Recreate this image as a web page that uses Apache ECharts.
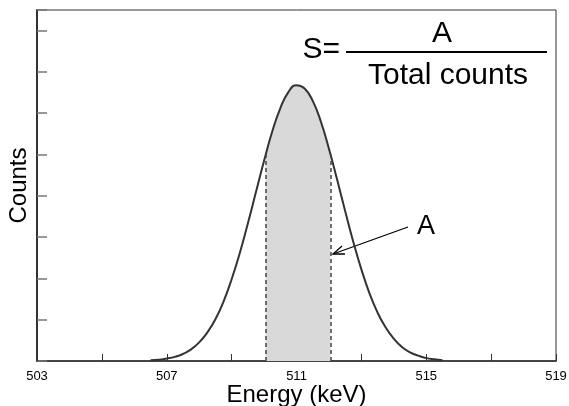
<!DOCTYPE html>
<html>
<head>
<meta charset="utf-8">
<script src="https://cdn.jsdelivr.net/npm/echarts@6/dist/echarts.min.js"></script>
<style>
  html, body { margin: 0; padding: 0; background: #fff; }
  #chart { width: 569px; height: 406px; }
</style>
</head>
<body>
<div id="chart"></div>
<script>
// energy (keV) and counts
const energy = [506.5, 506.75, 507, 507.25, 507.5, 507.75, 508, 508.25, 508.5, 508.75,
  509, 509.25, 509.5, 509.75, 510, 510.25, 510.5, 510.75, 511, 511.25, 511.5, 511.75,
  512, 512.25, 512.5, 512.75, 513, 513.25, 513.5, 513.75, 514, 514.25, 514.5, 514.75,
  515, 515.25, 515.5];
const counts = [0.02, 0.03, 0.06, 0.10, 0.17, 0.28, 0.45, 0.69, 1.01, 1.44,
  1.98, 2.61, 3.33, 4.09, 4.85, 5.55, 6.12, 6.51, 6.68, 6.60, 6.30, 5.80,
  5.14, 4.40, 3.63, 2.89, 2.22, 1.64, 1.17, 0.81, 0.54, 0.34, 0.21, 0.13,
  0.07, 0.04, 0.02];

// window A
const shadeEnergy = [510.05, 510.25, 510.5, 510.75, 511, 511.25, 511.5, 511.75, 512, 512.05];
const shadeCounts = [5.0, 5.55, 6.12, 6.51, 6.68, 6.60, 6.30, 5.80, 5.14, 5.0];

const xLabels = [503, 507, 511, 515, 519];

const chart = echarts.init(document.getElementById('chart'));
const font = 'Liberation Sans, Arial, sans-serif';

const curve = energy.map((e, i) => [e, counts[i]]);
const shade = shadeEnergy.map((e, i) => [e, shadeCounts[i]]);
const first = shade[0], last = shade[shade.length - 1];

const option = {
  animation: false,
  grid: {
    left: 37, right: 13, top: 10, bottom: 45,
    outerBoundsMode: 'none',
    containLabel: false,
    show: true, borderColor: '#333', borderWidth: 1
  },
  xAxis: {
    type: 'value',
    min: 503, max: 519, interval: 2,
    name: 'Energy (keV)',
    nameLocation: 'middle',
    nameGap: 22,
    nameMoveOverlap: false,
    nameTextStyle: { fontFamily: font, fontSize: 24, color: '#000' },
    axisLine: { lineStyle: { color: '#444', width: 2 } },
    axisTick: { inside: true, length: 7, lineStyle: { color: '#333' } },
    axisLabel: {
      fontFamily: font, fontSize: 13, color: '#000', margin: 9,
      formatter: v => xLabels.includes(v) ? String(v) : ''
    },
    splitLine: { show: false }
  },
  yAxis: {
    type: 'value',
    min: 0, max: 8.5, interval: 1,
    name: 'Counts',
    nameLocation: 'middle',
    nameGap: 6,
    nameMoveOverlap: false,
    nameTextStyle: { fontFamily: font, fontSize: 24, color: '#000' },
    axisLine: { show: true, lineStyle: { color: '#333', width: 2 } },
    axisTick: { show: true, inside: true, length: 10, lineStyle: { color: '#777', width: 1.5 } },
    axisLabel: { show: false },
    splitLine: { show: false }
  },
  series: [
    {
      type: 'line',
      data: shade,
      smooth: true,
      symbol: 'none',
      lineStyle: { width: 0 },
      areaStyle: { color: '#d9d9d9', opacity: 1 },
      markLine: {
        silent: true,
        symbol: 'none',
        label: { show: false },
        lineStyle: { color: '#444', type: [4, 3], width: 1.5 },
        data: [
          [{ coord: [first[0], 0] }, { coord: [first[0], first[1]] }],
          [{ coord: [last[0], 0] }, { coord: [last[0], last[1]] }]
        ]
      },
      z: 1
    },
    {
      type: 'line',
      data: curve,
      smooth: true,
      symbol: 'none',
      lineStyle: { color: '#333', width: 2 },
      z: 3
    }
  ],
  graphic: [
    { type: 'text', x: 340, y: 50,
      style: { text: 'S=', font: '30px ' + font, fill: '#000', align: 'right', verticalAlign: 'middle' } },
    { type: 'line', shape: { x1: 346, y1: 52, x2: 547, y2: 52 },
      style: { stroke: '#000', lineWidth: 2 } },
    { type: 'text', x: 442, y: 34,
      style: { text: 'A', font: '30px ' + font, fill: '#000', align: 'center', verticalAlign: 'middle' } },
    { type: 'text', x: 448, y: 76,
      style: { text: 'Total counts', font: '30px ' + font, fill: '#000', align: 'center', verticalAlign: 'middle' } },
    { type: 'text', x: 426, y: 227,
      style: { text: 'A', font: '27px ' + font, fill: '#000', align: 'center', verticalAlign: 'middle' } },
    { type: 'line', shape: { x1: 408, y1: 227, x2: 333, y2: 254 },
      style: { stroke: '#000', lineWidth: 1.3 } },
    { type: 'polyline', shape: { points: [[342, 246], [333, 254], [345, 254]] },
      style: { stroke: '#000', lineWidth: 1.3, fill: null } }
  ]
};

chart.setOption(option);
</script>
</body>
</html>
